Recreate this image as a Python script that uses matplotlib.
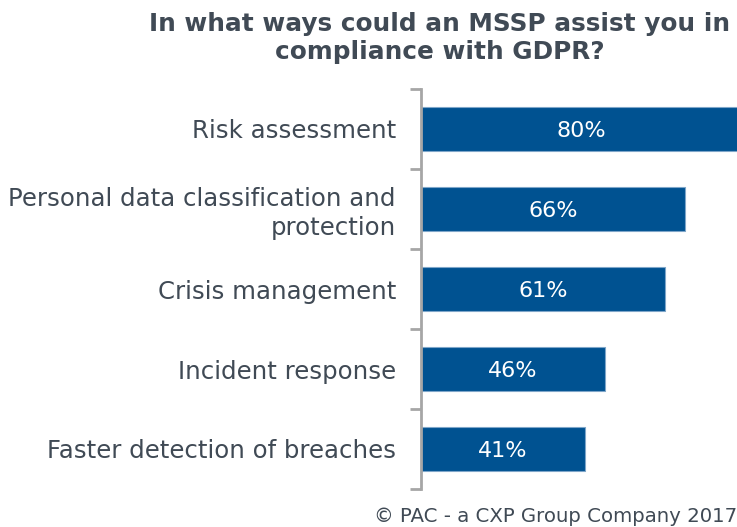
import matplotlib
matplotlib.use("Agg")
import matplotlib.pyplot as plt

categories = ["Risk assessment", "Personal data classification and\nprotection",
              "Crisis management", "Incident response", "Faster detection of breaches"]
values = [80, 66, 61, 46, 41]
value_labels = ["80%", "66%", "61%", "46%", "41%"]
title = "In what ways could an MSSP assist you in\ncompliance with GDPR?"
footer = "© PAC - a CXP Group Company 2017"

plt.rcParams['font.family'] = ['DejaVu Sans']
text_color = "#404a55"
bar_color = "#005291"

fig = plt.figure(figsize=(7.37, 5.27), dpi=100)
ax = fig.add_axes([421/737, 1-489/527, 1-421/737, (489-89)/527])
y = list(range(len(categories)))
ax.barh(y, values, height=0.56, color=bar_color, edgecolor="#7fa6c9", linewidth=0.8, clip_on=True)
ax.set_xlim(0, 79)
ax.set_ylim(len(categories)-0.5, -0.5)
for yi, v, lab in zip(y, values, value_labels):
    ax.text(v/2, yi + 0.03, lab, color="white", ha="center", va="center", fontsize=16)

ax.set_yticks([i - 0.5 for i in range(len(categories)+1)])
ax.set_yticklabels([])
ax.set_yticks(y, minor=True)
ax.set_yticklabels(categories, minor=True, fontsize=17.6, color=text_color, ha="right", linespacing=1.25)
ax.tick_params(axis='y', which='minor', length=0, pad=18)
ax.tick_params(axis='y', which='major', length=8, width=2, color="#a6a6a6")
ax.set_xticks([])
for s in ["top", "right", "bottom"]:
    ax.spines[s].set_visible(False)
ax.spines["left"].set_color("#a6a6a6")
ax.spines["left"].set_linewidth(2)

fig.text(440/737, 1-38/527, title, ha="center", va="center", fontsize=17.8, fontweight="bold",
         color=text_color, linespacing=1.25)
fig.text(1.0, 1-516/527, footer, ha="right", va="center", fontsize=14.2, color=text_color)

fig.savefig("out.png", dpi=100)
